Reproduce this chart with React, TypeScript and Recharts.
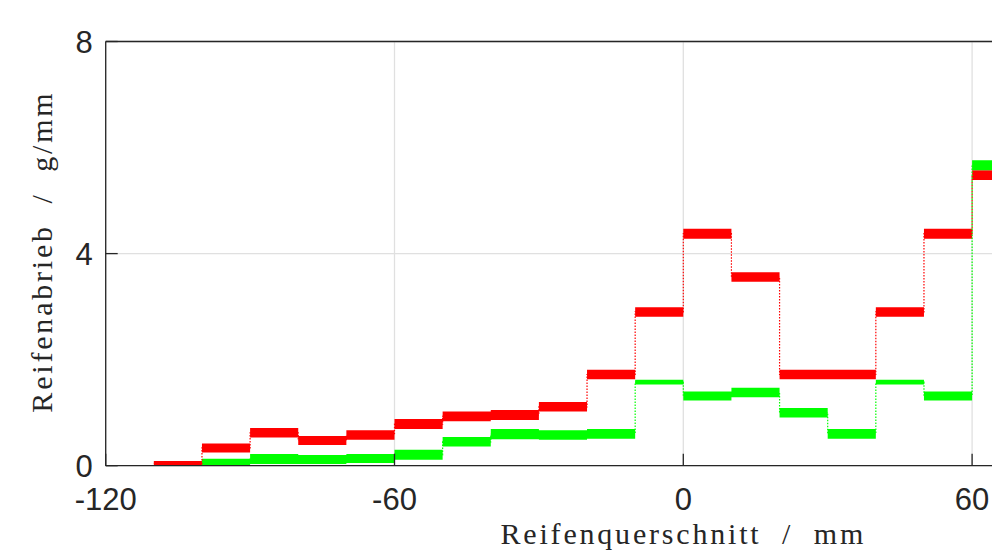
import React from "react";
import { ComposedChart, Area, Line, XAxis, YAxis, CartesianGrid } from "recharts";

// bin start positions (mm); the last entry closes the final bin
const binStarts = [-110, -100, -90, -80, -70, -60, -50, -40, -30, -20, -10, 0, 10, 20, 30, 40, 50, 60, 70];
// red series band (upper / lower edge, g/mm)
const redUpper = [0.09, 0.42, 0.71, 0.56, 0.67, 0.88, 1.02, 1.05, 1.2, 1.81, 2.99, 4.47, 3.65, 1.81, 1.81, 2.99, 4.47, 5.57, 5.57];
const redLower = [0, 0.25, 0.53, 0.39, 0.49, 0.69, 0.84, 0.86, 1.02, 1.63, 2.81, 4.28, 3.47, 1.63, 1.63, 2.81, 4.28, 5.39, 5.39];
// green series band (upper / lower edge, g/mm)
const greenUpper = [null, 0.13, 0.22, 0.2, 0.22, 0.3, 0.54, 0.69, 0.67, 0.69, 1.62, 1.4, 1.47, 1.09, 0.69, 1.62, 1.4, 5.76, 5.76];
const greenLower = [null, 0, 0.03, 0.03, 0.05, 0.11, 0.36, 0.5, 0.49, 0.51, 1.53, 1.23, 1.29, 0.91, 0.51, 1.53, 1.23, 5.57, 5.57];

const xTicks = [-120, -60, 0, 60, 120];
const yTicks = [0, 4, 8];
const xLabelText = "Reifenquerschnitt  /  mm";
const yLabelText = "Reifenabrieb  /  g/mm";

const data = binStarts.map((x, i) => {
  const gu = greenUpper[i];
  const gl = greenLower[i];
  return {
    x,
    red: [redLower[i], redUpper[i]],
    redMid: (redLower[i] + redUpper[i]) / 2,
    green: gu == null || gl == null ? null : [gl, gu],
    greenMid: gu == null || gl == null ? null : (gl + gu) / 2,
  };
});

const AXIS = "#262626";
const GRID = "#e0e0e0";
const SANS = "'Liberation Sans', Arial, sans-serif";
const SERIF = "'Liberation Serif', 'Times New Roman', serif";

const labelStyle: React.CSSProperties = {
  fontFamily: SERIF,
  fontSize: 30,
  letterSpacing: 2.8,
  fill: "#262626",
  whiteSpace: "pre",
};

const XLabel = (props: any) => {
  const vb = props && props.viewBox ? props.viewBox : { x: 105.7, y: 465.7, width: 1155.2, height: 93.3 };
  const cx = vb.x + vb.width / 2;
  return (
    <text x={cx} y={vb.y + 78.5} textAnchor="middle" xmlSpace="preserve" style={labelStyle}>
      {xLabelText}
    </text>
  );
};

const YLabel = (props: any) => {
  const vb = props && props.viewBox ? props.viewBox : { x: 0, y: 41.5, width: 105.7, height: 424.2 };
  const cy = vb.y + vb.height / 2 - 2;
  const bx = vb.x + 52;
  return (
    <text
      x={bx}
      y={cy}
      textAnchor="middle"
      xmlSpace="preserve"
      transform={`rotate(-90 ${bx} ${cy})`}
      style={labelStyle}
    >
      {yLabelText}
    </text>
  );
};

export default function App() {
  return (
    <div style={{ width: 992, height: 559, overflow: "hidden", position: "relative", background: "#fff" }}>
      <style>{"html,body{margin:0;padding:0;overflow:hidden;background:#fff}"}</style>
      <ComposedChart
        width={1300}
        height={559}
        data={data}
        margin={{ top: 11.5, right: 39.1, bottom: 0, left: 0 }}
      >
        <CartesianGrid stroke={GRID} strokeWidth={1.3} />
        <XAxis
          dataKey="x"
          type="number"
          domain={[-120, 120]}
          ticks={xTicks}
          interval={0}
          height={93.3}
          tickSize={-12}
          tickMargin={34}
          stroke={AXIS}
          strokeWidth={1.3}
          tick={{ fill: AXIS, fontSize: 31, fontFamily: SANS }}
          label={XLabel}
        />
        <XAxis
          xAxisId="top"
          orientation="top"
          dataKey="x"
          type="number"
          domain={[-120, 120]}
          ticks={xTicks}
          interval={0}
          height={30}
          tickSize={-12}
          tick={false}
          stroke={AXIS}
          strokeWidth={1.3}
        />
        <YAxis
          type="number"
          domain={[0, 8]}
          ticks={yTicks}
          interval={0}
          width={105.7}
          tickSize={-12}
          tickMargin={25}
          stroke={AXIS}
          strokeWidth={1.3}
          tick={{ fill: AXIS, fontSize: 31, fontFamily: SANS }}
          label={YLabel}
        />
        <Line
          dataKey="redMid"
          type="stepAfter"
          stroke="#ff0000"
          strokeWidth={1.2}
          strokeDasharray="1.5 1.5"
          dot={false}
          activeDot={false}
          isAnimationActive={false}
        />
        <Line
          dataKey="greenMid"
          type="stepAfter"
          stroke="#00ff00"
          strokeWidth={1.2}
          strokeDasharray="1.5 1.5"
          dot={false}
          activeDot={false}
          isAnimationActive={false}
        />
        <Area
          dataKey="red"
          type="stepAfter"
          stroke="none"
          fill="#ff0000"
          fillOpacity={1}
          dot={false}
          activeDot={false}
          isAnimationActive={false}
        />
        <Area
          dataKey="green"
          type="stepAfter"
          stroke="none"
          fill="#00ff00"
          fillOpacity={1}
          dot={false}
          activeDot={false}
          isAnimationActive={false}
        />
      </ComposedChart>
    </div>
  );
}
